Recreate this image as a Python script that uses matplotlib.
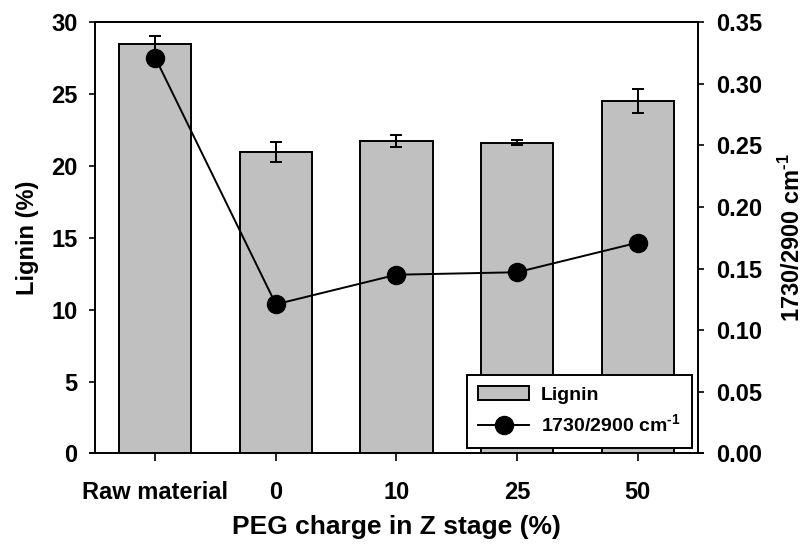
import matplotlib
matplotlib.use("Agg")
import matplotlib.pyplot as plt
from matplotlib.ticker import MultipleLocator, FormatStrFormatter

plt.rcParams["font.family"] = ["Liberation Sans", "DejaVu Sans"]
plt.rcParams["font.weight"] = "bold"
plt.rcParams["mathtext.fontset"] = "custom"
plt.rcParams["mathtext.rm"] = "Liberation Sans:bold"
plt.rcParams["mathtext.bf"] = "Liberation Sans:bold"

# ── Data ──────────────────────────────────────────────────────────────────────
categories = ["Raw material", "0", "10", "25", "50"]
lignin     = [28.45, 20.95, 21.75, 21.62, 24.52]
lignin_err = [0.58, 0.68, 0.42, 0.18, 0.83]
ratio      = [0.321, 0.121, 0.145, 0.147, 0.171]

BAR_GRAY = "#c0c0c0"
RATIO_LABEL = "1730/2900 cm$^{\\text{-1}}$"
pos = list(range(len(categories)))

fig = plt.figure(figsize=(8.09, 5.44), dpi=100)
ax = fig.add_axes([0.1174, 0.1664, 0.7454, 0.7932])
ax2 = ax.twinx()

# ── Lignin bars (left axis) ───────────────────────────────────────────────────
bars = ax.bar(pos, lignin, width=0.6, color=BAR_GRAY, edgecolor="black",
              linewidth=1.4, label="Lignin", zorder=2)
ax.errorbar(pos, lignin, yerr=lignin_err, fmt="none", ecolor="black",
            elinewidth=1.4, capsize=4.5, capthick=1.4, zorder=3)

ax.set_xlim(-0.5, 4.5)
ax.set_ylim(0, 30)
ax.yaxis.set_major_locator(MultipleLocator(5))
ax.set_xticks(pos)
ax.set_xticklabels(categories)
ax.set_ylabel("Lignin (%)", fontsize=17, fontweight="bold", labelpad=9)
ax.set_xlabel("PEG charge in Z stage (%)", fontsize=19, fontweight="bold", labelpad=8)
ax.tick_params(axis="x", direction="out", length=6, width=1.2, pad=14, labelsize=17)
ax.tick_params(axis="y", direction="out", length=4.5, width=1.2, pad=8, labelsize=17)
for lab in ax.get_xticklabels() + ax.get_yticklabels():
    lab.set_fontweight("bold")

# ── 1730/2900 ratio (right axis) ─────────────────────────────────────────────
line, = ax2.plot(pos, ratio, "-o", color="black", lw=1.4, ms=13,
                 label=RATIO_LABEL, zorder=4)
ax2.set_ylim(0, 0.35)
ax2.yaxis.set_major_locator(MultipleLocator(0.05))
ax2.yaxis.set_major_formatter(FormatStrFormatter("%.2f"))
ax2.tick_params(axis="y", direction="out", length=4, width=1.2, pad=9, labelsize=17)
for lab in ax2.get_yticklabels():
    lab.set_fontweight("bold")
ax2.set_ylabel(RATIO_LABEL, fontsize=17, fontweight="bold",
               rotation=90, labelpad=12)

for sp in ax.spines.values():
    sp.set_linewidth(1.4)
for sp in ax2.spines.values():
    sp.set_linewidth(1.4)
ax2.spines["left"].set_visible(False)
ax2.spines["bottom"].set_visible(False)
ax.spines["right"].set_visible(False)
# x-axis line runs a little past the frame on both sides
ax.spines["bottom"].set_bounds(-0.5 - 5 / 120, 4.5 + 5 / 120)

leg = ax2.legend([bars, line], ["Lignin", RATIO_LABEL],
                 loc="lower right", bbox_to_anchor=(0.99, 0.013),
                 borderaxespad=0, fancybox=False, framealpha=1,
                 edgecolor="black", handlelength=2.6,
                 handletextpad=0.6, borderpad=0.6, labelspacing=0.5,
                 prop={"weight": "bold", "size": 14})
leg.get_frame().set_linewidth(1.4)

fig.savefig("out.png", dpi=100)
